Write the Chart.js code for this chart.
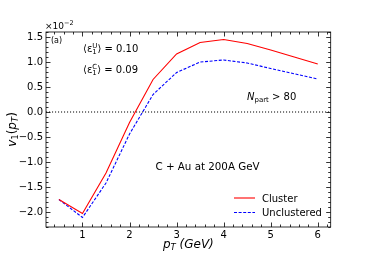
<!DOCTYPE html>
<html><head><meta charset="utf-8">
<script src="https://cdn.jsdelivr.net/npm/chart.js@4"></script>
<style>html,body{margin:0;padding:0;background:#fff}canvas{display:block}</style>
</head><body>
<canvas id="c" width="368" height="260"></canvas>
<script>
const pT = [0.5, 1, 1.5, 2, 2.5, 3, 3.5, 4, 4.5, 5, 5.5, 6];
const cluster = [-1.75, -2.03, -1.22, -0.21, 0.65, 1.16, 1.39, 1.45, 1.37, 1.24, 1.10, 0.96];
const unclustered = [-1.75, -2.11, -1.42, -0.44, 0.35, 0.79, 1.00, 1.04, 0.98, 0.87, 0.765, 0.66];
const xTicks = [1, 2, 3, 4, 5, 6];
const yTicks = [-2.0, -1.5, -1.0, -0.5, 0.0, 0.5, 1.0, 1.5];
const seriesNames = ['Cluster', 'Unclustered'];
const zeroLine = [0, 0];
const X_MIN = 0.225, X_MAX = 6.275, Y_MIN = -2.3, Y_MAX = 1.6;

const FONT = '"DejaVu Sans", sans-serif';

function drawRich(ctx, x, y, parts, align) {
  const widths = parts.map(p => {
    if (p.stack) {
      ctx.font = `${p.size}px ${FONT}`;
      return Math.max(ctx.measureText(p.stack[0]).width, ctx.measureText(p.stack[1]).width);
    }
    ctx.font = `${p.italic ? 'italic ' : ''}${p.size}px ${FONT}`;
    return ctx.measureText(p.t).width;
  });
  const total = widths.reduce((a, b) => a + b, 0);
  let cx = align === 'center' ? x - total / 2 : (align === 'right' ? x - total : x);
  ctx.textAlign = 'left';
  ctx.textBaseline = 'alphabetic';
  parts.forEach((p, i) => {
    if (p.stack) {
      ctx.font = `${p.size}px ${FONT}`;
      ctx.fillText(p.stack[0], cx, y + p.supDy);
      ctx.fillText(p.stack[1], cx, y + p.subDy);
    } else {
      ctx.font = `${p.italic ? 'italic ' : ''}${p.size}px ${FONT}`;
      ctx.fillText(p.t, cx, y + (p.dy || 0));
    }
    cx += widths[i];
  });
}

const decor = {
  id: 'decor',
  afterDraw(chart) {
    const ctx = chart.ctx;
    const xs = chart.scales.x, ys = chart.scales.y;
    const a = chart.chartArea;
    ctx.save();
    ctx.strokeStyle = '#000';
    ctx.lineWidth = 0.8;
    ctx.strokeRect(a.left, a.top, a.right - a.left, a.bottom - a.top);
    ctx.beginPath();
    for (let i = 2; i <= 31; i++) {
      const v = i * 0.2;
      if (v < X_MIN || v > X_MAX) continue;
      const px = Math.round(xs.getPixelForValue(v)) + 0.5;
      const major = Math.abs(v - Math.round(v)) < 1e-6;
      const L = major ? 4.5 : 2.5;
      ctx.moveTo(px, a.bottom); ctx.lineTo(px, a.bottom - L);
      ctx.moveTo(px, a.top); ctx.lineTo(px, a.top + L);
    }
    for (let i = -23; i <= 16; i++) {
      const v = i * 0.1;
      if (v < Y_MIN - 1e-9 || v > Y_MAX + 1e-9) continue;
      const py = Math.round(ys.getPixelForValue(v)) + 0.5;
      const major = i % 5 === 0;
      const L = major ? 4.5 : 2.5;
      ctx.moveTo(a.left, py); ctx.lineTo(a.left + L, py);
      ctx.moveTo(a.right, py); ctx.lineTo(a.right - L, py);
    }
    ctx.stroke();

    ctx.fillStyle = '#000';
    drawRich(ctx, a.left - 1, a.top - 3, [
      {t: '×10', size: 9},
      {t: '−2', size: 6.5, dy: -4}
    ], 'left');
    drawRich(ctx, a.left + 5, a.top + 11, [{t: '(a)', size: 8}], 'left');
    drawRich(ctx, 83, 52, [
      {t: '⟨ε', size: 10},
      {stack: ['U', '1'], size: 7, supDy: -4, subDy: 2},
      {t: '⟩ = 0.10', size: 10}
    ], 'left');
    drawRich(ctx, 83, 73, [
      {t: '⟨ε', size: 10},
      {stack: ['C', '1'], size: 7, supDy: -4, subDy: 2},
      {t: '⟩ = 0.09', size: 10}
    ], 'left');
    drawRich(ctx, 247, 100, [
      {t: 'N', size: 10, italic: true},
      {t: 'part', size: 7, dy: 2},
      {t: ' > 80', size: 10}
    ], 'left');
    drawRich(ctx, 207.5, 170, [{t: 'C + Au at 200A GeV', size: 10.3}], 'center');

    const ds = chart.data.datasets;
    const ly = [198, 212.5];
    [0, 1].forEach(i => {
      ctx.beginPath();
      ctx.strokeStyle = ds[i].borderColor;
      ctx.lineWidth = ds[i].borderWidth;
      ctx.setLineDash(ds[i].borderDash || []);
      ctx.moveTo(234, ly[i]); ctx.lineTo(255, ly[i]);
      ctx.stroke();
      ctx.setLineDash([]);
      ctx.fillStyle = '#000';
      drawRich(ctx, 262, ly[i] + 3.5, [{t: ds[i].label, size: 10}], 'left');
    });

    drawRich(ctx, (a.left + a.right) / 2, 248, [
      {t: 'p', size: 12, italic: true},
      {t: 'T', size: 8.5, italic: true, dy: 2},
      {t: ' (GeV)', size: 12, italic: true}
    ], 'center');
    ctx.translate(16, (a.top + a.bottom) / 2);
    ctx.rotate(-Math.PI / 2);
    drawRich(ctx, 0, 0, [
      {t: 'v', size: 12, italic: true},
      {t: '1', size: 8.5, dy: 2},
      {t: '(', size: 12},
      {t: 'p', size: 12, italic: true},
      {t: 'T', size: 8.5, italic: true, dy: 2},
      {t: ')', size: 12}
    ], 'center');
    ctx.restore();
  }
};

new Chart(document.getElementById('c'), {
  type: 'line',
  data: {
    datasets: [
      {label: seriesNames[0], data: pT.map((x, i) => ({x, y: cluster[i]})),
       borderColor: '#ff0000', borderWidth: 1.1, pointRadius: 0, fill: false, tension: 0},
      {label: seriesNames[1], data: pT.map((x, i) => ({x, y: unclustered[i]})),
       borderColor: '#0000ff', borderWidth: 1.1, borderDash: [3, 1.6], pointRadius: 0, fill: false, tension: 0},
      {label: 'zero', data: [{x: X_MIN, y: zeroLine[0]}, {x: X_MAX, y: zeroLine[1]}],
       borderColor: '#000', borderWidth: 1.1, borderDash: [1.1, 1.9], pointRadius: 0, fill: false}
    ]
  },
  options: {
    responsive: false,
    animation: false,
    devicePixelRatio: 1,
    layout: {padding: {left: 0, top: 32, right: 37.3, bottom: 0}},
    plugins: {legend: {display: false}, tooltip: {enabled: false}},
    scales: {
      x: {
        type: 'linear', min: X_MIN, max: X_MAX,
        grid: {display: false, drawTicks: false}, border: {display: false},
        afterBuildTicks: s => { s.ticks = xTicks.map(v => ({value: v})); },
        afterFit: s => { s.height = 33; },
        ticks: {color: '#000', font: {family: FONT, size: 10}, padding: 2, maxRotation: 0, autoSkip: false,
                callback: v => String(v)}
      },
      y: {
        type: 'linear', min: Y_MIN, max: Y_MAX,
        grid: {display: false, drawTicks: false}, border: {display: false},
        afterBuildTicks: s => { s.ticks = yTicks.map(v => ({value: v})); },
        afterFit: s => { s.width = 46; },
        ticks: {color: '#000', font: {family: FONT, size: 10}, padding: 3, autoSkip: false,
                callback: v => v.toFixed(1).replace('-', '−')}
      }
    }
  },
  plugins: [decor]
});
</script>
</body></html>
